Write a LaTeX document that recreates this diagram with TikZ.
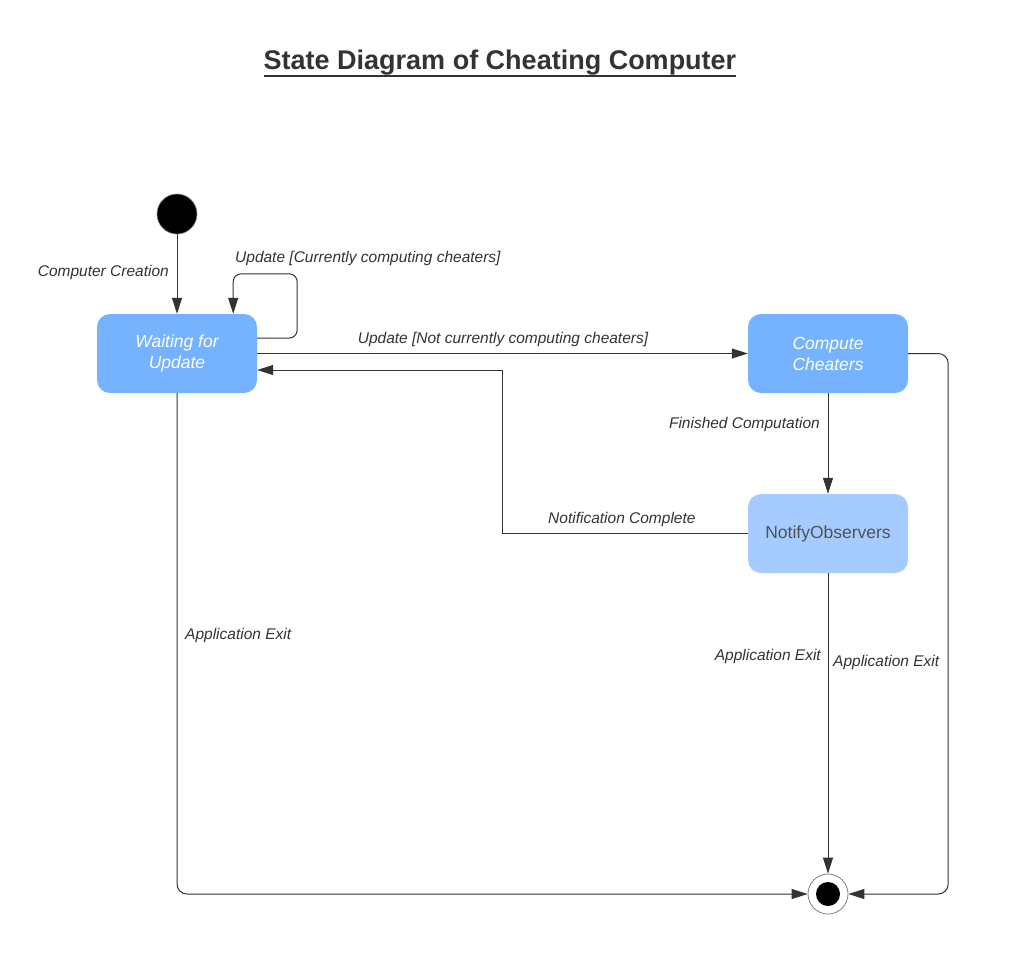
\documentclass[tikz,border=0pt]{standalone}
\usepackage{fontspec}
\setmainfont{Liberation Sans}
\usetikzlibrary{arrows.meta}
\definecolor{boxblue}{HTML}{75B2FF}
\definecolor{boxlight}{HTML}{A6CCFF}
\definecolor{ink}{HTML}{333333}
\begin{document}
\begin{tikzpicture}[x=1pt,y=-1pt,
  state/.style={fill=boxblue, rounded corners=13pt, minimum width=160pt, minimum height=79pt,
    text=white, font=\fontsize{17.5}{21}\selectfont\itshape, align=center, inner sep=0pt},
  lightstate/.style={state, fill=boxlight, text=ink!85, font=\fontsize{17.5}{21}\selectfont},
  conn/.style={draw=ink, line width=1pt, -{Triangle[length=16pt,width=10pt]}},
  lbl/.style={inner sep=0pt, text=ink, font=\fontsize{15.5}{18}\selectfont\itshape}
]
\useasboundingbox (0,0) rectangle (1031,954);
\fill[white] (0,0) rectangle (1031,954);

% title
\node[inner sep=0pt, anchor=base, text=ink, font=\fontsize{27}{32}\selectfont\bfseries] (title) at (500,69) {State Diagram of Cheating Computer};
\draw[ink, line width=2.5pt] ([yshift=-1pt]title.south west) -- ([yshift=-1pt]title.south east);

% states
\node[circle, fill=black, draw=gray, line width=0.6pt, minimum size=40pt, inner sep=0pt] (init) at (177,214) {};
\node[state] (wait) at (177,353.5) {Waiting for\\Update};
\node[state] (comp) at (828,353.5) {Compute\\Cheaters};
\node[lightstate] (notify) at (828,533.5) {NotifyObservers};
\node[circle, draw=gray, line width=0.8pt, minimum size=40pt, inner sep=0pt] (final) at (828,894) {};
\node[circle, fill=black, minimum size=24pt, inner sep=0pt] (finaldot) at (final.center) {};

% connectors
\draw[conn] (init) -- (wait);
\draw[conn, rounded corners=8pt] ([yshift=15.5pt]wait.east) -- ++(40,0) |- ([xshift=-24pt,yshift=40pt]wait.north east) -- ([xshift=-24pt]wait.north east);
\draw[conn] (wait.east) -- (comp.west);
\draw[conn] (notify.west) -- (502,533.5) |- ([yshift=-16.5pt]wait.east);
\draw[conn] (comp) -- (notify);
\draw[conn, rounded corners=10pt] (comp.east) -- ++(40,0) |- (final.east);
\draw[conn] (notify) -- (final);
\draw[conn, rounded corners=10pt] (wait.south) |- (final.west);

% labels
\node[lbl, anchor=mid east] (l1) at (169,274) {Computer Creation};
\node[lbl, anchor=mid west] (l2) at (235,260) {Update [Currently computing cheaters]};
\node[lbl, anchor=mid] (l3) at (503,341) {Update [Not currently computing cheaters]};
\node[lbl, anchor=mid east] (l4) at (820,426) {Finished Computation};
\node[lbl, anchor=mid west] (l5) at (548,521) {Notification Complete};
\node[lbl, anchor=mid west] (l6) at (185,637) {Application Exit};
\node[lbl, anchor=mid east] (l7) at (821,658) {Application Exit};
\node[lbl, anchor=mid west] (l8) at (833,664) {Application Exit};
\end{tikzpicture}
\end{document}
